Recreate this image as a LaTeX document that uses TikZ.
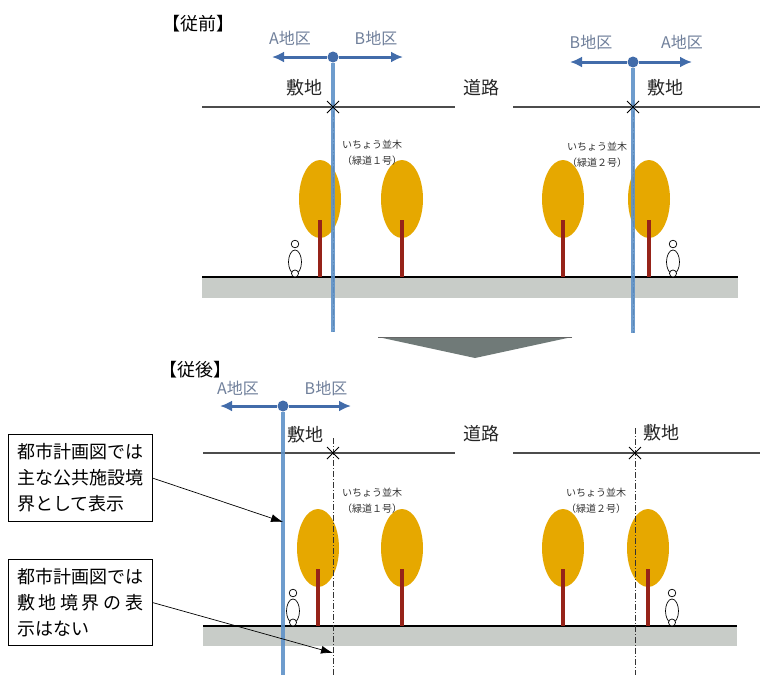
\documentclass[tikz,border=0pt]{standalone}
\usepackage{fontspec}
\setmainfont{Noto Sans CJK JP}
\usetikzlibrary{arrows.meta,positioning}

\definecolor{bndblue}{RGB}{95,146,200}
\definecolor{arrowblue}{RGB}{66,108,170}
\definecolor{zonegray}{RGB}{112,128,155}
\definecolor{leafgold}{RGB}{230,168,0}
\definecolor{trunkred}{RGB}{150,35,25}
\definecolor{groundgray}{RGB}{200,204,200}
\definecolor{bigarrow}{RGB}{112,122,120}

\tikzset{
  ginkgo/.pic={
    \fill[leafgold] (0,-78) ellipse [x radius=21pt, y radius=39pt];
    \draw[trunkred, line width=4pt] (0,-57) -- (0,0);
  },
  walker/.pic={
    \draw[line width=0.7pt, fill=white] (0,-15) ellipse [x radius=6.5pt, y radius=12pt];
    \draw[line width=0.7pt, fill=white] (0,-3.5) circle [radius=3.5pt];
    \draw[line width=0.7pt, fill=white] (0,-33) circle [radius=3.8pt];
  },
  sitecross/.pic={
    \draw[line width=0.8pt] (-6,-6) -- (6,6) (-6,6) -- (6,-6);
  }
}

\begin{document}
\begin{tikzpicture}[x=1pt, y=-1pt,
    every node/.style={inner sep=0pt},
    title/.style={font=\fontsize{18}{20}\selectfont},
    place/.style={font=\fontsize{18}{20}\selectfont, text=black!85},
    zone/.style={font=\fontsize{16}{20}\selectfont, text=zonegray},
    note/.style={font=\fontsize{10}{16}\selectfont, align=center, text=black!80},
    callout/.style={draw, line width=0.8pt, inner sep=9pt, align=left,
                    font=\fontsize{18}{26}\selectfont},
    dot/.style={circle, fill=arrowblue, minimum size=11pt},
    zonearr/.style={-{Latex[length=12pt,width=11pt]}, line width=3pt, arrowblue},
    bnd/.style={line width=3.5pt, bndblue, opacity=0.9},
    site/.style={line width=0.8pt, black!80, dash pattern=on 6pt off 2pt on 1pt off 2pt},
    road/.style={line width=1.3pt, black!70},
    leader/.style={-{Latex[length=12pt,width=8pt]}, line width=0.7pt}
  ]
  \useasboundingbox (0,0) rectangle (761,675);
  \fill[white] (0,0) rectangle (761,675);

  % ===== before =====
  \node[title] (before) at (198,24) {【従前】};

  % road edge and ground
  \draw[road] (202,107) -- (455,107) (513,107) -- (760,107);
  \fill[groundgray] (202,277) rectangle (738,298);
  \draw[line width=1.5pt] (202,277) -- (738,277);

  \pic at (320,277) {ginkgo};
  \pic at (402,277) {ginkgo};
  \pic at (563,277) {ginkgo};
  \pic at (649,277) {ginkgo};
  \pic at (295,277) {walker};
  \pic at (673,277) {walker};

  \node[place] (siteL) at (304,88) {敷地};
  \node[place] (roadT) at (481,88) {道路};
  \node[place] (siteR) at (665,88) {敷地};
  \node[note] (row1) at (372,153) {いちょう並木\\（緑道１号）};
  \node[note] (row2) at (597,155) {いちょう並木\\（緑道２号）};

  % district boundary = site boundary
  \node[dot] (bndL) at (333,57) {};
  \node[dot] (bndR) at (633,62) {};
  \coordinate (bndLend) at (333,332);
  \coordinate (bndRend) at (633,333);
  \draw[site] (333,100) -- (bndLend);
  \draw[site] (633,100) -- (bndRend);
  \draw[bnd] (bndL) -- (bndLend);
  \draw[bnd] (bndR) -- (bndRend);
  \pic at (333,107) {sitecross};
  \pic at (633,107) {sitecross};

  \coordinate (LA) at (272,57);
  \coordinate (LB) at (403,57);
  \coordinate (RB) at (570,62);
  \coordinate (RA) at (692,62);
  \draw[zonearr] (bndL) -- (LA);
  \draw[zonearr] (bndL) -- (LB);
  \draw[zonearr] (bndR) -- (RB);
  \draw[zonearr] (bndR) -- (RA);
  \node[zone] (zLA) at (290,38) {A地区};
  \node[zone] (zLB) at (376,38) {B地区};
  \node[zone] (zRB) at (591,42) {B地区};
  \node[zone] (zRA) at (682,42) {A地区};

  % ===== down arrow =====
  \fill[bigarrow] (378,337) -- (572,337) -- (475,358) -- cycle;
  \draw[black!60, line width=0.8pt] (378,337) -- (572,337);

  % ===== after =====
  \node[title] (after) at (195,370) {【従後】};

  \draw[road] (203,453) -- (455,453) (513,453) -- (760,453);
  \fill[groundgray] (203,626) rectangle (737,646);
  \draw[line width=1.5pt] (203,626) -- (737,626);

  \pic at (318,626) {ginkgo};
  \pic at (402,626) {ginkgo};
  \pic at (563,626) {ginkgo};
  \pic at (648,626) {ginkgo};
  \pic at (293,626) {walker};
  \pic at (672,626) {walker};

  \node[place] (siteNL) at (305,435) {敷地};
  \node[place] (roadN) at (481,434) {道路};
  \node[place] (siteNR) at (661,433) {敷地};
  \node[note] (row3) at (372,501) {いちょう並木\\（緑道１号）};
  \node[note] (row4) at (596,501) {いちょう並木\\（緑道２号）};

  % site boundary only (dash-dot)
  \draw[site] (333,438) -- (333,675);
  \draw[site] (635,428) -- (635,675);
  \pic at (333,453) {sitecross};
  \pic at (635,453) {sitecross};

  % public facility boundary
  \node[dot] (bndN) at (283,406) {};
  \coordinate (bndNend) at (283,675);
  \draw[bnd] (bndN) -- (bndNend);
  \coordinate (NA) at (220,406);
  \coordinate (NB) at (351,406);
  \draw[zonearr] (bndN) -- (NA);
  \draw[zonearr] (bndN) -- (NB);
  \node[zone] (zNA) at (238,388) {A地区};
  \node[zone] (zNB) at (326,388) {B地区};

  % callouts
  \node[callout] (noteA) at (80,478)
    {都市計画図では\\主な公共施設境\\界として表示};
  \node[callout, below=37pt of noteA] (noteB)
    {都市計画図では\\\hbox to 126pt{敷\hfill 地\hfill 境\hfill 界\hfill の\hfill 表}\\示はない};
  \coordinate (tipA) at (283,522);
  \coordinate (tipB) at (333,653);
  \draw[leader] (noteA.east) -- (tipA);
  \draw[leader] (noteB.east) -- (tipB);
\end{tikzpicture}
\end{document}
